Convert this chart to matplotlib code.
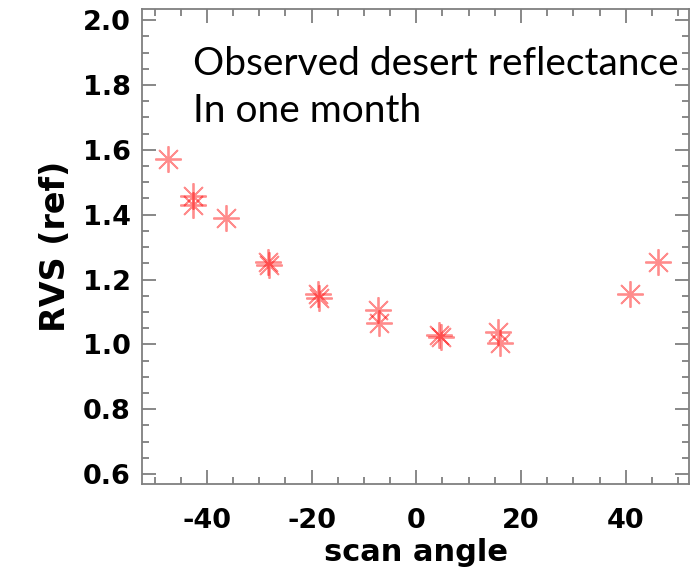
import matplotlib
matplotlib.use('Agg')
import matplotlib.pyplot as plt
from matplotlib.ticker import MultipleLocator

plt.rcParams['axes.unicode_minus'] = False

# scan angle vs. RVS, desert targets over one month
scan_angle = [-47.5, -42.7, -42.7, -36.3, -28.4, -28.2, -18.7, -18.6,
              -7.4, -7.2, 4.4, 4.7, 15.6, 16.0, 40.8, 46.2]
rvs = [1.572, 1.458, 1.430, 1.390, 1.254, 1.246, 1.156, 1.143,
       1.106, 1.066, 1.029, 1.022, 1.039, 1.005, 1.156, 1.254]

fig = plt.figure(figsize=(6.92, 5.76), dpi=100)
ax = fig.add_axes([0.2052, 0.1597, 0.7905, 0.8243])

ax.plot(scan_angle, rvs, linestyle='none', marker=(8, 2, 0), markersize=19,
        markeredgewidth=1.3, color='red', alpha=0.45)

ax.set_xlim(-52.4, 52.1)
ax.set_ylim(0.569, 2.034)
ax.xaxis.set_major_locator(MultipleLocator(20))
ax.xaxis.set_minor_locator(MultipleLocator(5))
ax.yaxis.set_major_locator(MultipleLocator(0.2))
ax.yaxis.set_minor_locator(MultipleLocator(0.05))
ax.yaxis.set_major_formatter(plt.FormatStrFormatter('%.1f'))

grey = '#7f7f7f'
for s in ax.spines.values():
    s.set_color(grey)
    s.set_linewidth(1.3)
ax.tick_params(which='both', direction='in', top=True, right=True,
               color=grey, width=1.3)
ax.tick_params(which='major', length=10)
ax.tick_params(which='minor', length=5)
ax.tick_params(axis='x', which='major', pad=17)
ax.tick_params(axis='y', which='major', pad=8)
for lab in ax.get_xticklabels() + ax.get_yticklabels():
    lab.set_fontsize(19.5)
    lab.set_fontweight('heavy')
    lab.set_family('DejaVu Sans')

ax.set_xlabel('scan angle', fontsize=22, fontweight='heavy', labelpad=3)
ax.set_ylabel('RVS (ref)', fontsize=24, fontweight='heavy', labelpad=8)

ax.text(0.093, 0.862, 'Observed desert reflectance', transform=ax.transAxes,
        family='Lato', fontsize=28, va='baseline', ha='left')
ax.text(0.093, 0.762, 'In one month', transform=ax.transAxes,
        family='Lato', fontsize=28, va='baseline', ha='left')

fig.savefig('out.png', dpi=100)
